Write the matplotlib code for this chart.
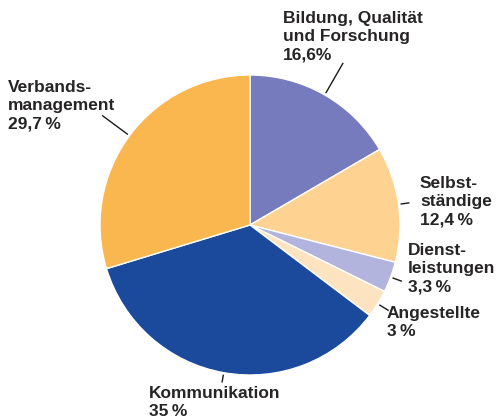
import numpy as np
import matplotlib
matplotlib.use("Agg")
import matplotlib.pyplot as plt

categories = ["Bildung, Qualität\nund Forschung", "Selbst-\nständige", "Dienst-\nleistungen",
              "Angestellte", "Kommunikation", "Verbands-\nmanagement"]
values = [16.6, 12.4, 3.3, 3.0, 35.0, 29.7]
value_labels = ["16,6%", "12,4\u2009%", "3,3\u2009%", "3\u2009%", "35\u2009%", "29,7\u2009%"]
colors = ["#767bbd", "#fed392", "#b2b4dd", "#fee3c0", "#1b4a9c", "#fbb74f"]

W, H = 496, 418
fig = plt.figure(figsize=(W / 100, H / 100), dpi=100)
ax = fig.add_axes([0, 0, 1, 1])

cx, cy, R = 250, H - 225, 150
wedges, _ = ax.pie(values, colors=colors, startangle=90, counterclock=False,
                   center=(cx, cy), radius=R, frame=True,
                   wedgeprops=dict(edgecolor="white", linewidth=1.0))
ax.set_xlim(0, W)
ax.set_ylim(0, H)
ax.set_aspect("equal")
ax.axis("off")

# label layout: text left/top in pixels, leader line inner/outer radius
layout = [
    (283, 11, 152, 187),
    (420, 176, 152, 161),
    (408, 243, 152, 162),
    (387, 306, 152, 163),
    (149, 386, 152, 160),
    (8, 80, 152, 184),
]
txtcol = "#262424"
for w, cat, vl, (lx, ly, r0, r1) in zip(wedges, categories, value_labels, layout):
    ang = np.deg2rad((w.theta1 + w.theta2) / 2)
    ax.plot([cx + r0 * np.cos(ang), cx + r1 * np.cos(ang)],
            [cy + r0 * np.sin(ang), cy + r1 * np.sin(ang)],
            color="#1a1a1a", lw=1.0, solid_capstyle="butt")
    ax.text(lx, H - ly, cat + "\n" + vl, ha="left", va="top",
            fontsize=12.5, fontweight="bold", family=["Liberation Sans", "DejaVu Sans"],
            color=txtcol, linespacing=1.28)

fig.savefig("out.png", dpi=100, facecolor="white")
